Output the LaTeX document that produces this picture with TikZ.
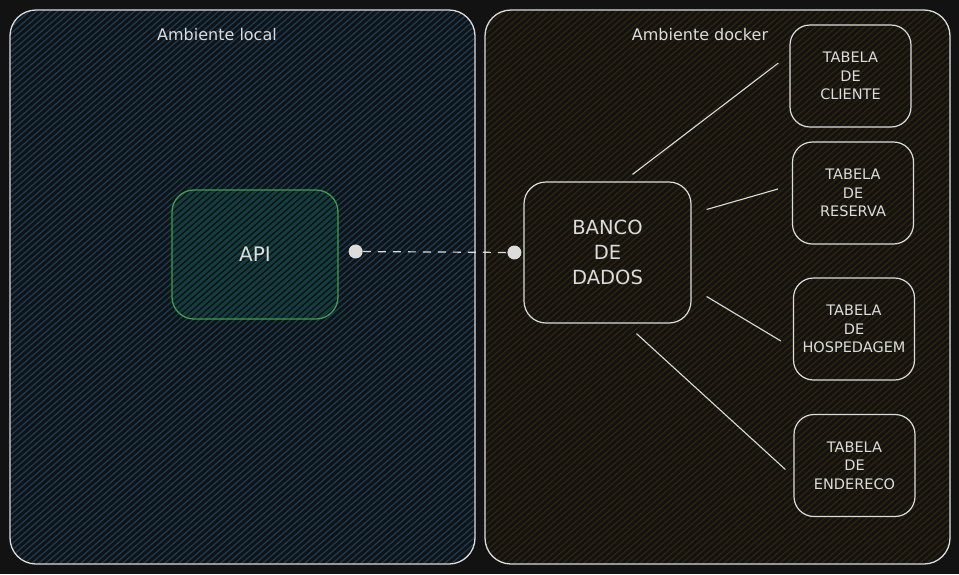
\documentclass[tikz,border=0pt]{standalone}
\usepackage{fontspec}
\setmainfont{DejaVu Sans}
\usetikzlibrary{calc}
\definecolor{bg}{HTML}{121212}
\definecolor{strk}{HTML}{DCDCDC}
\definecolor{hblue}{HTML}{173A56}
\definecolor{hbrown}{HTML}{2E240C}
\definecolor{hgreen}{HTML}{0D4636}
\definecolor{gstroke}{HTML}{3E9E4C}
\newcommand\hachbox[6]{%
  \begin{scope}
    \clip[rounded corners=#5] (#1,#2) rectangle (#3,#4);
    \pgfmathsetmacro\hh{(#4)-(#2)}
    \pgfmathsetmacro\dxx{\hh*1.15}
    \pgfmathsetmacro\xs{(#1)-\dxx}
    \pgfmathsetmacro\xn{\xs+7}
    \foreach \xx in {\xs,\xn,...,#3} {
      \draw[#6, line width=1.4] (\xx,#4) -- ++(\dxx,-\hh);
    }
  \end{scope}}
\tikzset{
  container/.style={draw=strk, line width=1.3, rounded corners=26},
  tbl/.style={draw=strk, line width=1.2, rounded corners=20, text=strk,
    minimum width=121, minimum height=102, align=center,
    font=\fontsize{14.5}{18.5}\selectfont},
  bdbox/.style={draw=strk, line width=1.2, rounded corners=22, text=strk,
    minimum width=167, minimum height=141, align=center,
    font=\fontsize{19.5}{25}\selectfont},
  apibox/.style={draw=gstroke, line width=1.3, rounded corners=22, text=strk,
    minimum width=166, minimum height=129, font=\fontsize{20}{24}\selectfont},
  title/.style={text=strk, font=\fontsize{16}{19}\selectfont},
  conn/.style={draw=strk, line width=1.1},
  dashconn/.style={draw=strk, line width=1.2, dash pattern=on 8 off 7},
  dot/.style={circle, fill=strk, inner sep=0, minimum size=14},
}
\begin{document}
\begin{tikzpicture}[x=1pt, y=-1pt]
  \fill[bg] (0,0) rectangle (959,574);
  \useasboundingbox (0,0) rectangle (959,574);
  % containers hachure
  \hachbox{10}{10}{475}{564}{26}{hblue}
  \hachbox{485}{10}{950}{564}{26}{hbrown}
  \hachbox{172}{190}{338}{319}{22}{hgreen}
  \draw[container] (10,10) rectangle (475,564);
  \draw[container] (485,10) rectangle (950,564);
  \node[title] (tl) at (217,35) {Ambiente local};
  \node[title] (td) at (700,35) {Ambiente docker};
  % nodes
  \node[apibox] (api) at (255,254.5) {API};
  \node[bdbox] (bd) at (607.5,252.5) {BANCO\\DE\\DADOS};
  \node[tbl] (t1) at (850.5,76) {TABELA\\DE\\CLIENTE};
  \node[tbl] (t2) at (853,193) {TABELA\\DE\\RESERVA};
  \node[tbl] (t3) at (854,329) {TABELA\\DE\\HOSPEDAGEM};
  \node[tbl] (t4) at (854.5,465.5) {TABELA\\DE\\ENDERECO};
  % dashed connector
  \node[dot] (d1) at ($(api.east)+(17,-3)$) {};
  \node[dot] (d2) at ($(bd.west)+(-9,0)$) {};
  \draw[dashconn] (d1) -- (d2);
  % table connectors
  \draw[conn] ($(bd.north)+(25,-7)$) -- ($(t1.west)+(-11,-13)$);
  \draw[conn] ($(bd.east)+(15,-43)$) -- ($(t2.west)+(-14,-4)$);
  \draw[conn] ($(bd.east)+(15,44)$) -- ($(t3.west)+(-12,12)$);
  \draw[conn] ($(bd.south)+(29,10)$) -- ($(t4.west)+(-8,4)$);
\end{tikzpicture}
\end{document}
